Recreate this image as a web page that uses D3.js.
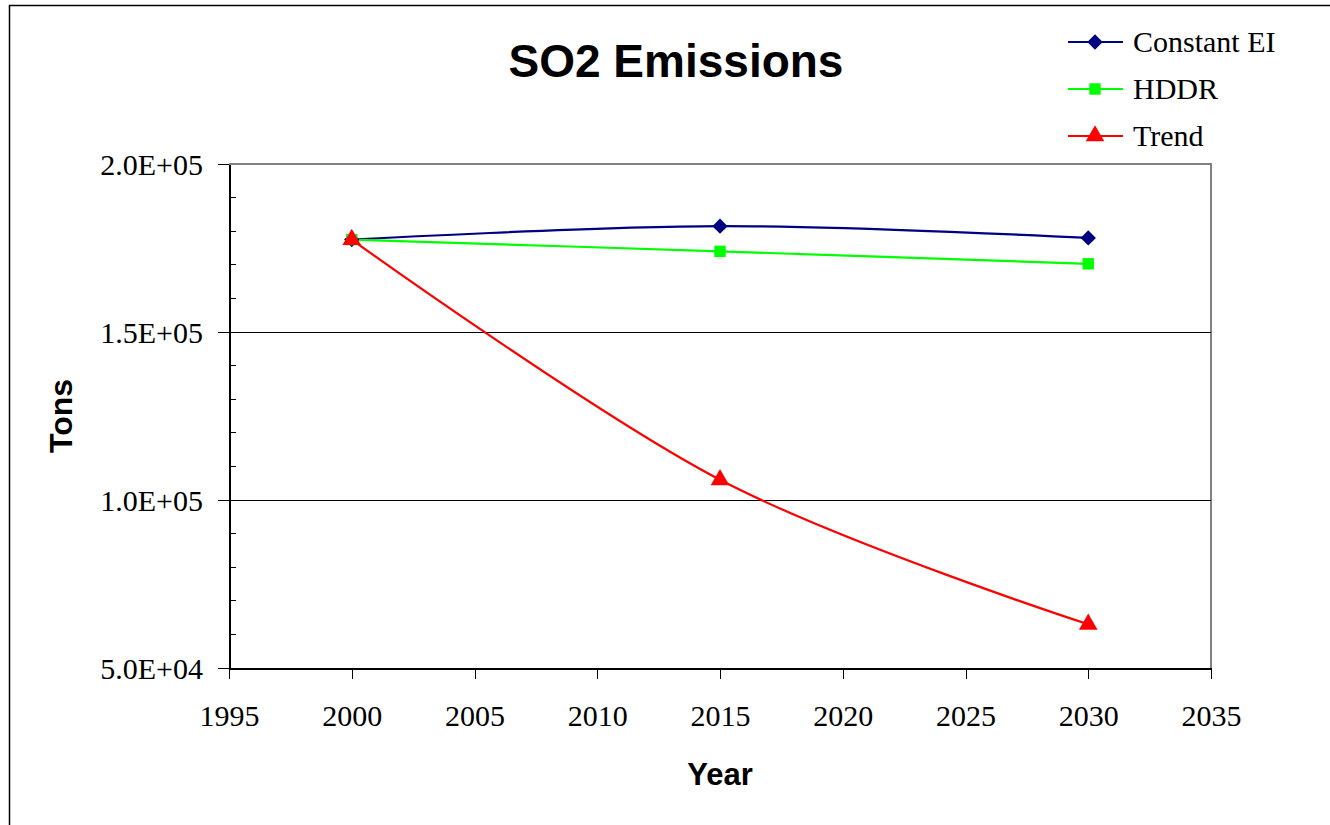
<!DOCTYPE html>
<html>
<head>
<meta charset="utf-8">
<script src="https://cdn.jsdelivr.net/npm/d3@7"></script>
<style>
  html, body { margin: 0; padding: 0; background: #fff; }
  svg { display: block; }
</style>
</head>
<body>
<svg id="chart" width="1330" height="825"></svg>
<script>
// Projected SO2 emissions (tons) under three scenarios
const years = [2000, 2015, 2030];
const constantEI = [177500, 181500, 178000];
const hddr = [177500, 174000, 170300];
const trend = [177500, 106000, 63000];
const seriesNames = ["Constant EI", "HDDR", "Trend"];
const seriesColors = ["#000080", "#00ff00", "#ff0000"];
const seriesSymbols = [d3.symbolDiamond2, d3.symbolSquare, d3.symbolTriangle];
const xTicks = [1995, 2000, 2005, 2010, 2015, 2020, 2025, 2030, 2035];
const yTicks = [50000, 100000, 150000, 200000];

const svg = d3.select("#chart");
const serif = "'Liberation Serif', 'Times New Roman', serif";
const sans = "'Liberation Sans', Arial, sans-serif";

// outer chart frame
svg.append("rect")
  .attr("x", 9.5).attr("y", 5.5)
  .attr("width", 1340).attr("height", 840)
  .attr("fill", "#fff").attr("stroke", "#000").attr("stroke-width", 1.5);

const plotL = 229, plotR = 1211, plotT = 164, plotB = 668;
const x = d3.scaleLinear().domain([1995, 2035]).range([plotL, plotR]);
const y = d3.scaleLinear().domain([50000, 200000]).range([plotB, plotT]);

// plot area border (top/right in grey)
svg.append("path")
  .attr("d", `M${plotL},${plotT}H${plotR}V${plotB}`)
  .attr("fill", "none").attr("stroke", "#808080").attr("stroke-width", 2)
  .attr("shape-rendering", "crispEdges");

// horizontal gridlines
svg.append("g").attr("shape-rendering", "crispEdges").selectAll("line")
  .data(yTicks.filter(v => v > 50000 && v < 200000))
  .join("line")
  .attr("x1", plotL).attr("x2", plotR)
  .attr("y1", d => y(d)).attr("y2", d => y(d))
  .attr("stroke", "#000").attr("stroke-width", 1);

// minor y ticks (inside)
const minor = d3.range(60000, 200000, 10000).filter(v => v % 50000 !== 0);
svg.append("g").attr("shape-rendering", "crispEdges").selectAll("line")
  .data(minor).join("line")
  .attr("x1", plotL).attr("x2", plotL + 7)
  .attr("y1", d => y(d)).attr("y2", d => y(d))
  .attr("stroke", "#000").attr("stroke-width", 1);

// y axis
const yAxis = svg.append("g")
  .attr("transform", `translate(${plotL},0)`)
  .attr("shape-rendering", "crispEdges")
  .call(d3.axisLeft(y).tickValues(yTicks).tickSizeInner(11).tickSizeOuter(0)
    .tickPadding(15)
    .tickFormat(d => d.toExponential(1).toUpperCase().replace(/E\+(\d)$/, "E+0$1")));
yAxis.select(".domain").attr("stroke", "#000").attr("stroke-width", 2);
yAxis.selectAll(".tick line").attr("stroke", "#000").attr("stroke-width", 1);
yAxis.selectAll("text").attr("font-family", serif).attr("font-size", 30)
  .attr("fill", "#000").attr("dy", "0.34em");

// x axis
const xAxis = svg.append("g")
  .attr("transform", `translate(0,${plotB})`)
  .attr("shape-rendering", "crispEdges")
  .call(d3.axisBottom(x).tickValues(xTicks).tickSizeInner(11).tickSizeOuter(0)
    .tickPadding(26).tickFormat(d3.format("d")));
xAxis.select(".domain").attr("stroke", "#000").attr("stroke-width", 2);
xAxis.selectAll(".tick line").attr("stroke", "#000").attr("stroke-width", 1);
xAxis.selectAll("text").attr("font-family", serif).attr("font-size", 30)
  .attr("fill", "#000");

// titles
svg.append("text").attr("x", 676).attr("y", 77).attr("text-anchor", "middle")
  .attr("font-family", sans).attr("font-weight", "bold").attr("font-size", 46)
  .text("SO2 Emissions");
svg.append("text").attr("x", 720).attr("y", 785).attr("text-anchor", "middle")
  .attr("font-family", sans).attr("font-weight", "bold").attr("font-size", 31)
  .text("Year");
svg.append("text")
  .attr("transform", "translate(72,416) rotate(-90)")
  .attr("text-anchor", "middle")
  .attr("font-family", sans).attr("font-weight", "bold").attr("font-size", 32)
  .text("Tons");

// series
const allSeries = [constantEI, hddr, trend];
const line = d3.line().x((d, i) => x(years[i])).y(d => y(d))
  .curve(d3.curveCatmullRom.alpha(0));
const symbolSizes = [150, 130, 150];

allSeries.forEach((vals, k) => {
  svg.append("path").datum(vals)
    .attr("d", line)
    .attr("fill", "none").attr("stroke", seriesColors[k]).attr("stroke-width", 2.2);
});
allSeries.forEach((vals, k) => {
  svg.append("g").selectAll("path")
    .data(vals).join("path")
    .attr("transform", (d, i) => `translate(${x(years[i])},${y(d)})`)
    .attr("d", d3.symbol(seriesSymbols[k], symbolSizes[k]))
    .attr("fill", seriesColors[k]);
});

// legend
const legend = svg.append("g");
seriesNames.forEach((name, k) => {
  const cy = 42 + k * 47;
  legend.append("line").attr("x1", 1068).attr("x2", 1123)
    .attr("y1", cy).attr("y2", cy)
    .attr("stroke", seriesColors[k]).attr("stroke-width", 2.2);
  legend.append("path")
    .attr("transform", `translate(1095,${cy})`)
    .attr("d", d3.symbol(seriesSymbols[k], symbolSizes[k]))
    .attr("fill", seriesColors[k]);
  legend.append("text").attr("x", 1133).attr("y", cy + 10)
    .attr("font-family", serif).attr("font-size", 30).attr("fill", "#000")
    .text(name);
});
</script>
</body>
</html>
